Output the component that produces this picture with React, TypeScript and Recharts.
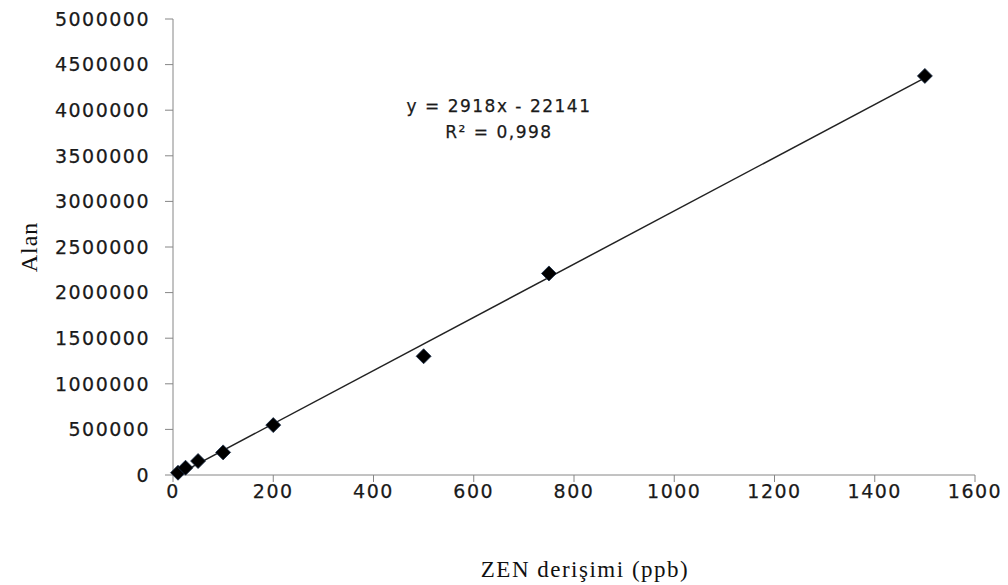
import { ScatterChart, Scatter, XAxis, YAxis, Label } from "recharts";

const concentrations = [10, 25, 50, 100, 200, 500, 750, 1500];
const areas = [25000, 80000, 153000, 248000, 547000, 1302000, 2210000, 4376000];

// trend line ends, taken from the equation printed on the chart
const trendX = [10, 1500];
const trendY = [7039, 4354859];

const xTicks = [0, 200, 400, 600, 800, 1000, 1200, 1400, 1600];
const yTicks = [0, 500000, 1000000, 1500000, 2000000, 2500000, 3000000, 3500000, 4000000, 4500000, 5000000];

const points = concentrations.map((x, i) => ({ x, y: areas[i] }));
const trend = trendX.map((x, i) => ({ x, y: trendY[i] }));

const tickStyle = {
  fontSize: 19,
  fill: "#1a1a1a",
  fontFamily: "DejaVu Sans",
  letterSpacing: 1.5,
  stroke: "#1a1a1a",
  strokeWidth: 0.25,
};
const axisGrey = "#868686";

const Diamond = (props: any) => {
  const { cx, cy } = props;
  const r = 7.5;
  return <polygon points={`${cx},${cy - r} ${cx + r},${cy} ${cx},${cy + r} ${cx - r},${cy}`} fill="#000" stroke="#1c2f4a" strokeWidth={0.8} />;
};

const NoDot = () => <g />;

export default function App() {
  return (
    <div style={{ position: "absolute", left: 0, top: 0, width: 1008, height: 585, background: "#fff" }}>
      <ScatterChart width={1008} height={585} margin={{ top: 19, right: 33, left: 0, bottom: 0 }}>
        <XAxis
          type="number"
          dataKey="x"
          domain={[0, 1600]}
          ticks={xTicks}
          height={110}
          tickSize={7}
          tickMargin={3}
          tick={tickStyle}
          stroke={axisGrey}
        >
          <Label
            value="ZEN derişimi (ppb)"
            position="insideBottom"
            offset={8}
            dx={11}
            style={{ fontSize: 23, fontFamily: "Liberation Serif", fill: "#111", letterSpacing: 1.5 }}
          />
        </XAxis>
        <YAxis
          type="number"
          dataKey="y"
          domain={[0, 5000000]}
          ticks={yTicks}
          width={173}
          tickSize={8}
          tickMargin={15}
          tick={tickStyle}
          stroke={axisGrey}
        >
          <Label
            value="Alan"
            angle={-90}
            position="insideLeft"
            offset={28}
            style={{ fontSize: 24, fontFamily: "Liberation Serif", fill: "#111", textAnchor: "middle", letterSpacing: 1 }}
          />
        </YAxis>
        <Scatter data={trend} line={{ stroke: "#222", strokeWidth: 1.5 }} shape={NoDot} isAnimationActive={false} />
        <Scatter data={points} shape={Diamond} isAnimationActive={false} />
      </ScatterChart>
      <div
        style={{
          position: "absolute",
          left: 399,
          top: 93,
          width: 200,
          textAlign: "center",
          fontFamily: "DejaVu Sans",
          fontSize: 17,
          letterSpacing: 1.5,
          lineHeight: "26px",
          color: "#1a1a1a",
          WebkitTextStroke: "0.25px #1a1a1a",
        }}
      >
        <div>y = 2918x - 22141</div>
        <div>R² = 0,998</div>
      </div>
    </div>
  );
}
